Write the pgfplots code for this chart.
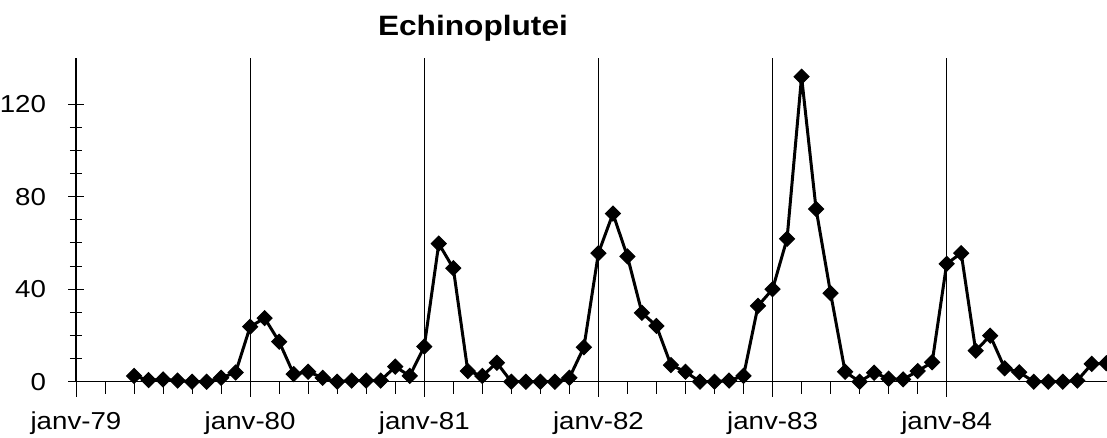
\documentclass[border=0pt]{standalone}
\usepackage{fontspec}
\setmainfont[FakeStretch=1.13]{Liberation Sans}
\usepackage{pgfplots}
\pgfplotsset{compat=1.18}
\pgfplotstableread{
m v
4 2.5
5 0.7
6 1
7 0.5
8 0
9 0
10 1.7
11 4
12 23.8
13 27.5
14 17.3
15 3.3
16 4.3
17 1.7
18 0
19 0.5
20 0.5
21 0.5
22 6.5
23 2.5
24 15.2
25 59.7
26 49.1
27 4.6
28 2.5
29 8.2
30 0
31 0
32 0
33 0
34 1.7
35 14.9
36 55.6
37 72.7
38 54.2
39 29.8
40 24.1
41 7.2
42 4.3
43 0
44 0
45 0.5
46 2.5
47 32.8
48 40.0
49 61.8
50 131.9
51 74.7
52 38.3
53 4.3
54 0
55 3.9
56 1.3
57 1.0
58 4.6
59 8.4
60 51.0
61 55.6
62 13.4
63 19.9
64 5.8
65 4.1
66 0
67 0
68 0
69 0.5
70 7.7
71 8.0
}\datatable
\begin{document}
\begin{tikzpicture}
\begin{axis}[
  at={(76pt,55.3pt)}, anchor=south west,
  scale only axis, width=1031pt, height=323.7pt,
  xmin=0, xmax=71.05, ymin=0, ymax=140,
  axis lines*=left,
  axis line style={-, line width=1.2pt, black},
  xtick={0,12,24,36,48,60},
  xticklabels={janv-79,janv-80,janv-81,janv-82,janv-83,janv-84},
  minor x tick num=5,
  ytick={0,40,80,120},
  minor y tick num=3,
  xtick align=outside,
  ytick align=center,
  major tick length=15pt,
  minor tick length=12pt,
  tick style={black, line width=1pt},
  xmajorgrids,
  major x grid style={black, line width=0.9pt},
  /pgf/number format/assume math mode=true,
  tick label style={font=\fontsize{24.5}{28}\selectfont},
  xticklabel style={yshift=-12pt},
  yticklabel style={xshift=-19pt},
  clip=false,
]
\addplot[black, line width=3pt, mark=square*, mark size=5.3pt,
  mark options={rotate=45, solid, line width=1pt}] table[x=m, y=v] {\datatable};
\node[anchor=base, yshift=22.5pt, font=\fontsize{28}{32}\selectfont\bfseries]
  at (rel axis cs:0.385,1) {Echinoplutei};
\end{axis}
\pgfresetboundingbox
\useasboundingbox (0,0) rectangle (1107pt,437pt);
\end{tikzpicture}
\end{document}
